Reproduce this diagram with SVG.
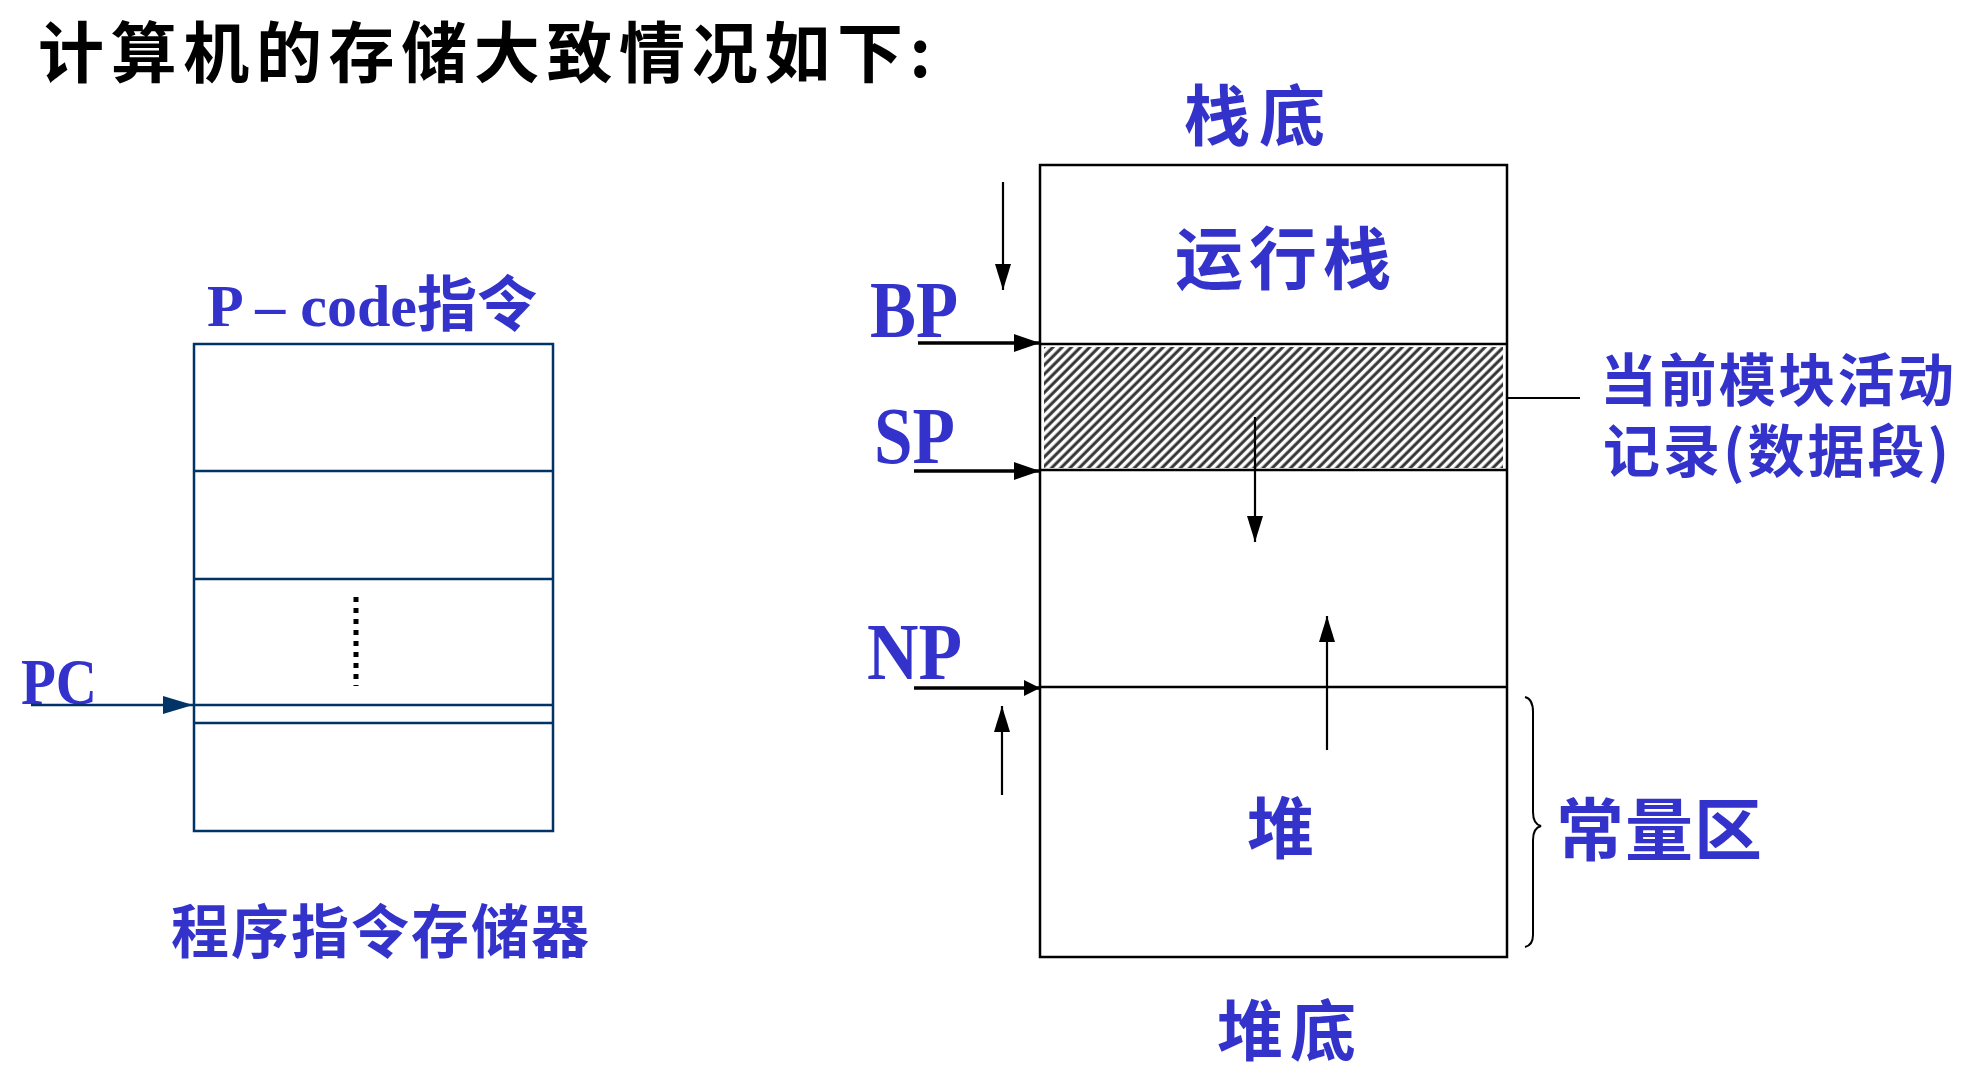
<svg xmlns="http://www.w3.org/2000/svg" width="1971" height="1078" viewBox="0 0 1971 1078">
<style>
.cjk{font-family:"Noto Sans CJK SC","Noto Sans CJK JP",sans-serif;font-weight:bold;fill:#3333CC}
.lat{font-family:"Liberation Serif","Noto Sans CJK SC",serif;font-weight:bold;fill:#3333CC}
.title{font-family:"Noto Sans CJK SC",sans-serif;font-weight:bold;fill:#000}
.box{fill:none;stroke:#000;stroke-width:2.5}
.nbox{fill:none;stroke:#003366;stroke-width:2.5}
.arr{stroke:#000;fill:none}
</style>
<defs>
<pattern id="hatch" width="6.5" height="6.5" patternUnits="userSpaceOnUse" patternTransform="rotate(45)">
<rect width="6.5" height="6.5" fill="#fff"/>
<line x1="2" y1="0" x2="2" y2="6.5" stroke="#333" stroke-width="3"/>
</pattern>
<marker id="ah" viewBox="0 0 26 18" refX="26" refY="9" markerWidth="26" markerHeight="18" markerUnits="userSpaceOnUse" orient="auto">
<path d="M0,0 L26,9 L0,18 Z" fill="#000"/>
</marker>
<marker id="ahv" viewBox="0 0 26 16" refX="26" refY="8" markerWidth="26" markerHeight="16" markerUnits="userSpaceOnUse" orient="auto">
<path d="M0,0 L26,8 L0,16 Z" fill="#000"/>
</marker>
<marker id="ahs" viewBox="0 0 16 16" refX="16" refY="8" markerWidth="16" markerHeight="16" markerUnits="userSpaceOnUse" orient="auto">
<path d="M0,0 L16,8 L0,16 Z" fill="#000"/>
</marker>
<marker id="ahn" viewBox="0 0 30 18" refX="30" refY="9" markerWidth="30" markerHeight="18" markerUnits="userSpaceOnUse" orient="auto">
<path d="M0,0 L30,9 L0,18 Z" fill="#003366"/>
</marker>
</defs>
<rect width="1971" height="1078" fill="#fff"/>

<text id="title" class="title" x="38" y="77" font-size="66" textLength="893">计算机的存储大致情况如下:</text>

<g id="instr-mem">
<text class="lat" x="207" y="326" font-size="60">P – code<tspan class="cjk">指令</tspan></text>
<rect class="nbox" x="194" y="344" width="359" height="487"/>
<line class="nbox" x1="194" y1="471" x2="553" y2="471"/>
<line class="nbox" x1="194" y1="579" x2="553" y2="579"/>
<line class="nbox" x1="194" y1="705" x2="553" y2="705"/>
<line class="nbox" x1="194" y1="723" x2="553" y2="723"/>
<line x1="356" y1="597" x2="356" y2="686" stroke="#000" stroke-width="5" stroke-dasharray="5 6"/>
<text class="cjk" x="171" y="953" font-size="58" textLength="418">程序指令存储器</text>
</g>

<g id="pc">
<text class="lat" x="21" y="704" font-size="66" textLength="76" lengthAdjust="spacingAndGlyphs">PC</text>
</g>

<g id="stack">
<text class="cjk" x="1184" y="140" font-size="66" textLength="141">栈底</text>
<rect class="box" x="1040" y="165" width="467" height="792"/>
<rect x="1044" y="347" width="459" height="121" fill="url(#hatch)"/>
<line class="box" x1="1040" y1="344" x2="1507" y2="344"/>
<line class="box" x1="1040" y1="470" x2="1507" y2="470"/>
<line class="box" x1="1040" y1="687" x2="1507" y2="687"/>
<text class="cjk" x="1175" y="284" font-size="68" textLength="216">运行栈</text>
<text class="cjk" x="1247" y="853" font-size="67">堆</text>
<text class="cjk" x="1217" y="1055" font-size="66" textLength="139">堆底</text>
</g>

<g id="labels">
<text class="lat" x="870" y="337" font-size="80" textLength="88" lengthAdjust="spacingAndGlyphs">BP</text>
<text class="lat" x="874" y="463" font-size="80" textLength="81" lengthAdjust="spacingAndGlyphs">SP</text>
<text class="lat" x="867" y="679" font-size="80" textLength="95" lengthAdjust="spacingAndGlyphs">NP</text>
<text class="cjk" x="1600" y="401" font-size="57" textLength="354">当前模块活动</text>
<text class="cjk" x="1603" y="472" font-size="57" textLength="346">记录(数据段)</text>
<text class="cjk" x="1556" y="855" font-size="68" textLength="206">常量区</text>
</g>

<g id="connectors">
<line x1="31" y1="705" x2="193" y2="705" stroke="#003366" stroke-width="2.5" marker-end="url(#ahn)"/>
<line class="arr" x1="1003" y1="182" x2="1003" y2="290" stroke-width="2.2" marker-end="url(#ahv)"/>
<line class="arr" x1="918" y1="343" x2="1040" y2="343" stroke-width="3.5" marker-end="url(#ah)"/>
<line class="arr" x1="914" y1="471" x2="1040" y2="471" stroke-width="3.5" marker-end="url(#ah)"/>
<line class="arr" x1="914" y1="688" x2="1040" y2="688" stroke-width="3.5" marker-end="url(#ahs)"/>
<line class="arr" x1="1002" y1="795" x2="1002" y2="706" stroke-width="2.2" marker-end="url(#ahv)"/>
<line class="arr" x1="1255" y1="417" x2="1255" y2="542" stroke-width="2.2" marker-end="url(#ahv)"/>
<line class="arr" x1="1327" y1="750" x2="1327" y2="616" stroke-width="2.2" marker-end="url(#ahv)"/>
<line class="arr" x1="1507" y1="398" x2="1580" y2="398" stroke-width="2"/>
<path class="arr" stroke-width="2" d="M1525,697 Q1533,699 1533,712 L1533,812 Q1533,824 1541,826 Q1533,828 1533,840 L1533,935 Q1533,945 1525,947"/>
</g>
</svg>
